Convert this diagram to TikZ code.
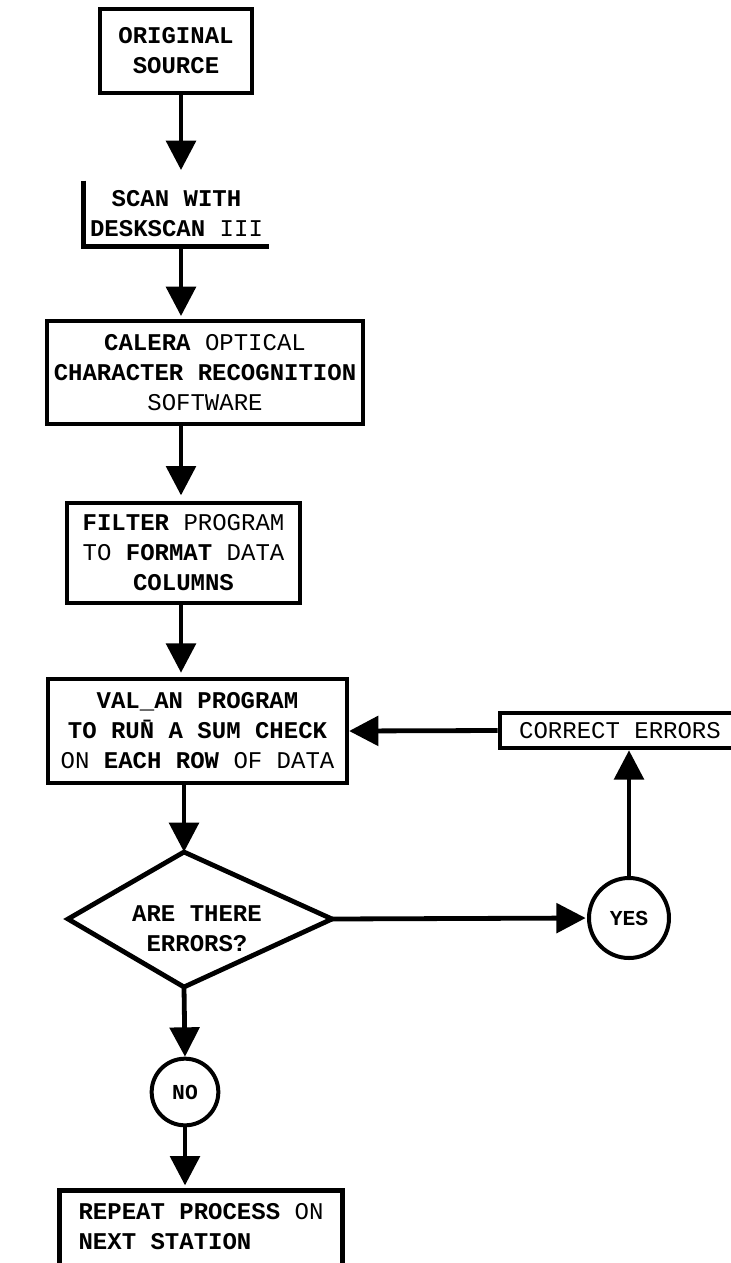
\documentclass[tikz,border=0pt]{standalone}
\usepackage{fontspec}
\setmainfont{Liberation Mono}
\usetikzlibrary{arrows.meta}

\tikzset{
  frame/.style={line width=3.4pt},
  stepbox/.style={frame,draw,inner sep=0pt,align=center,font=\fontsize{18}{22.5}\selectfont},
  openbox/.style={stepbox,draw=none},
  answer/.style={circle,draw,line width=3pt,inner sep=0pt,font=\fontsize{16}{18}\selectfont\bfseries},
  edge/.style={line width=3.6pt,-{Triangle[width=22pt,length=22pt]}},
}

\begin{document}
\begin{tikzpicture}[x=0.75pt,y=-0.75pt]
\useasboundingbox (0,0) rectangle (731,1263);
\coordinate (spine) at (181,0);

\node[stepbox,minimum width=114pt,minimum height=63pt] (orig) at (176,51) {\textbf{ORIGINAL}\\\textbf{SOURCE}};
\node[openbox,minimum width=135.75pt,minimum height=45.75pt] (scan) at (176.5,213.5) {\textbf{SCAN WITH}\\\textbf{DESKSCAN} III};
\draw[frame] (scan.north west) -- (scan.south west) -- (scan.south east);
\node[stepbox,minimum width=237pt,minimum height=77.25pt] (ocr) at (205,372.5) {\textbf{CALERA} OPTICAL\\\textbf{CHARACTER RECOGNITION}\\SOFTWARE};
\node[stepbox,minimum width=174.75pt,minimum height=75pt] (filter) at (183.5,553) {\textbf{FILTER} PROGRAM\\TO \textbf{FORMAT} DATA\\\textbf{COLUMNS}};
\node[stepbox,minimum width=224pt,minimum height=78pt] (valan) at (197.5,731) {\textbf{VAL\_AN PROGRAM}\\\textbf{TO RU\={N} A SUM CHECK}\\ON \textbf{EACH ROW} OF DATA};
\node[stepbox,minimum width=180pt,minimum height=26.25pt] (fix) at (620,730.5) {CORRECT ERRORS};

\coordinate (dtop) at (184,852);
\coordinate (dleft) at (68,919);
\coordinate (dright) at (332,919);
\coordinate (dbot) at (184,987);
\draw[line width=3.6pt] (dtop) -- (dright) -- (dbot) -- (dleft) -- cycle;
\node[align=center,font=\fontsize{18}{22.5}\selectfont] (ask) at (197,929) {\textbf{ARE THERE}\\\textbf{ERRORS?}};

\node[answer,minimum size=60pt] (yes) at (629,918) {YES};
\node[answer,minimum size=50pt] (no) at (185,1092) {NO};
\node[openbox,minimum width=208.5pt,minimum height=50.25pt,align=left] (repeat) at (201,1226.5) {\textbf{REPEAT PROCESS} ON\\\textbf{NEXT STATION}};
\draw[frame] ([yshift=-30pt]repeat.south west) -- (repeat.north west) -- (repeat.north east) -- ([yshift=-30pt]repeat.south east);

\draw[edge,shorten >=8pt] (orig.south -| spine) -- (scan.north -| spine);
\draw[edge,shorten >=2pt] (scan.south -| spine) -- (ocr.north -| spine);
\draw[edge,shorten >=4pt] (ocr.south -| spine) -- (filter.north -| spine);
\draw[edge,shorten >=3pt] (filter.south -| spine) -- (valan.north -| spine);
\draw[edge] (valan.south -| dtop) -- (dtop);
\draw[edge] (dbot) -- (no.north);
\draw[edge,shorten >=4pt] (no.south) -- (repeat.north -| no);
\draw[edge,shorten >=1pt] (dright) -- (yes.west);
\draw[edge] (yes.north) -- (fix.south -| yes);
\draw[edge] (fix.west) -- (valan.east);
\end{tikzpicture}
\end{document}
